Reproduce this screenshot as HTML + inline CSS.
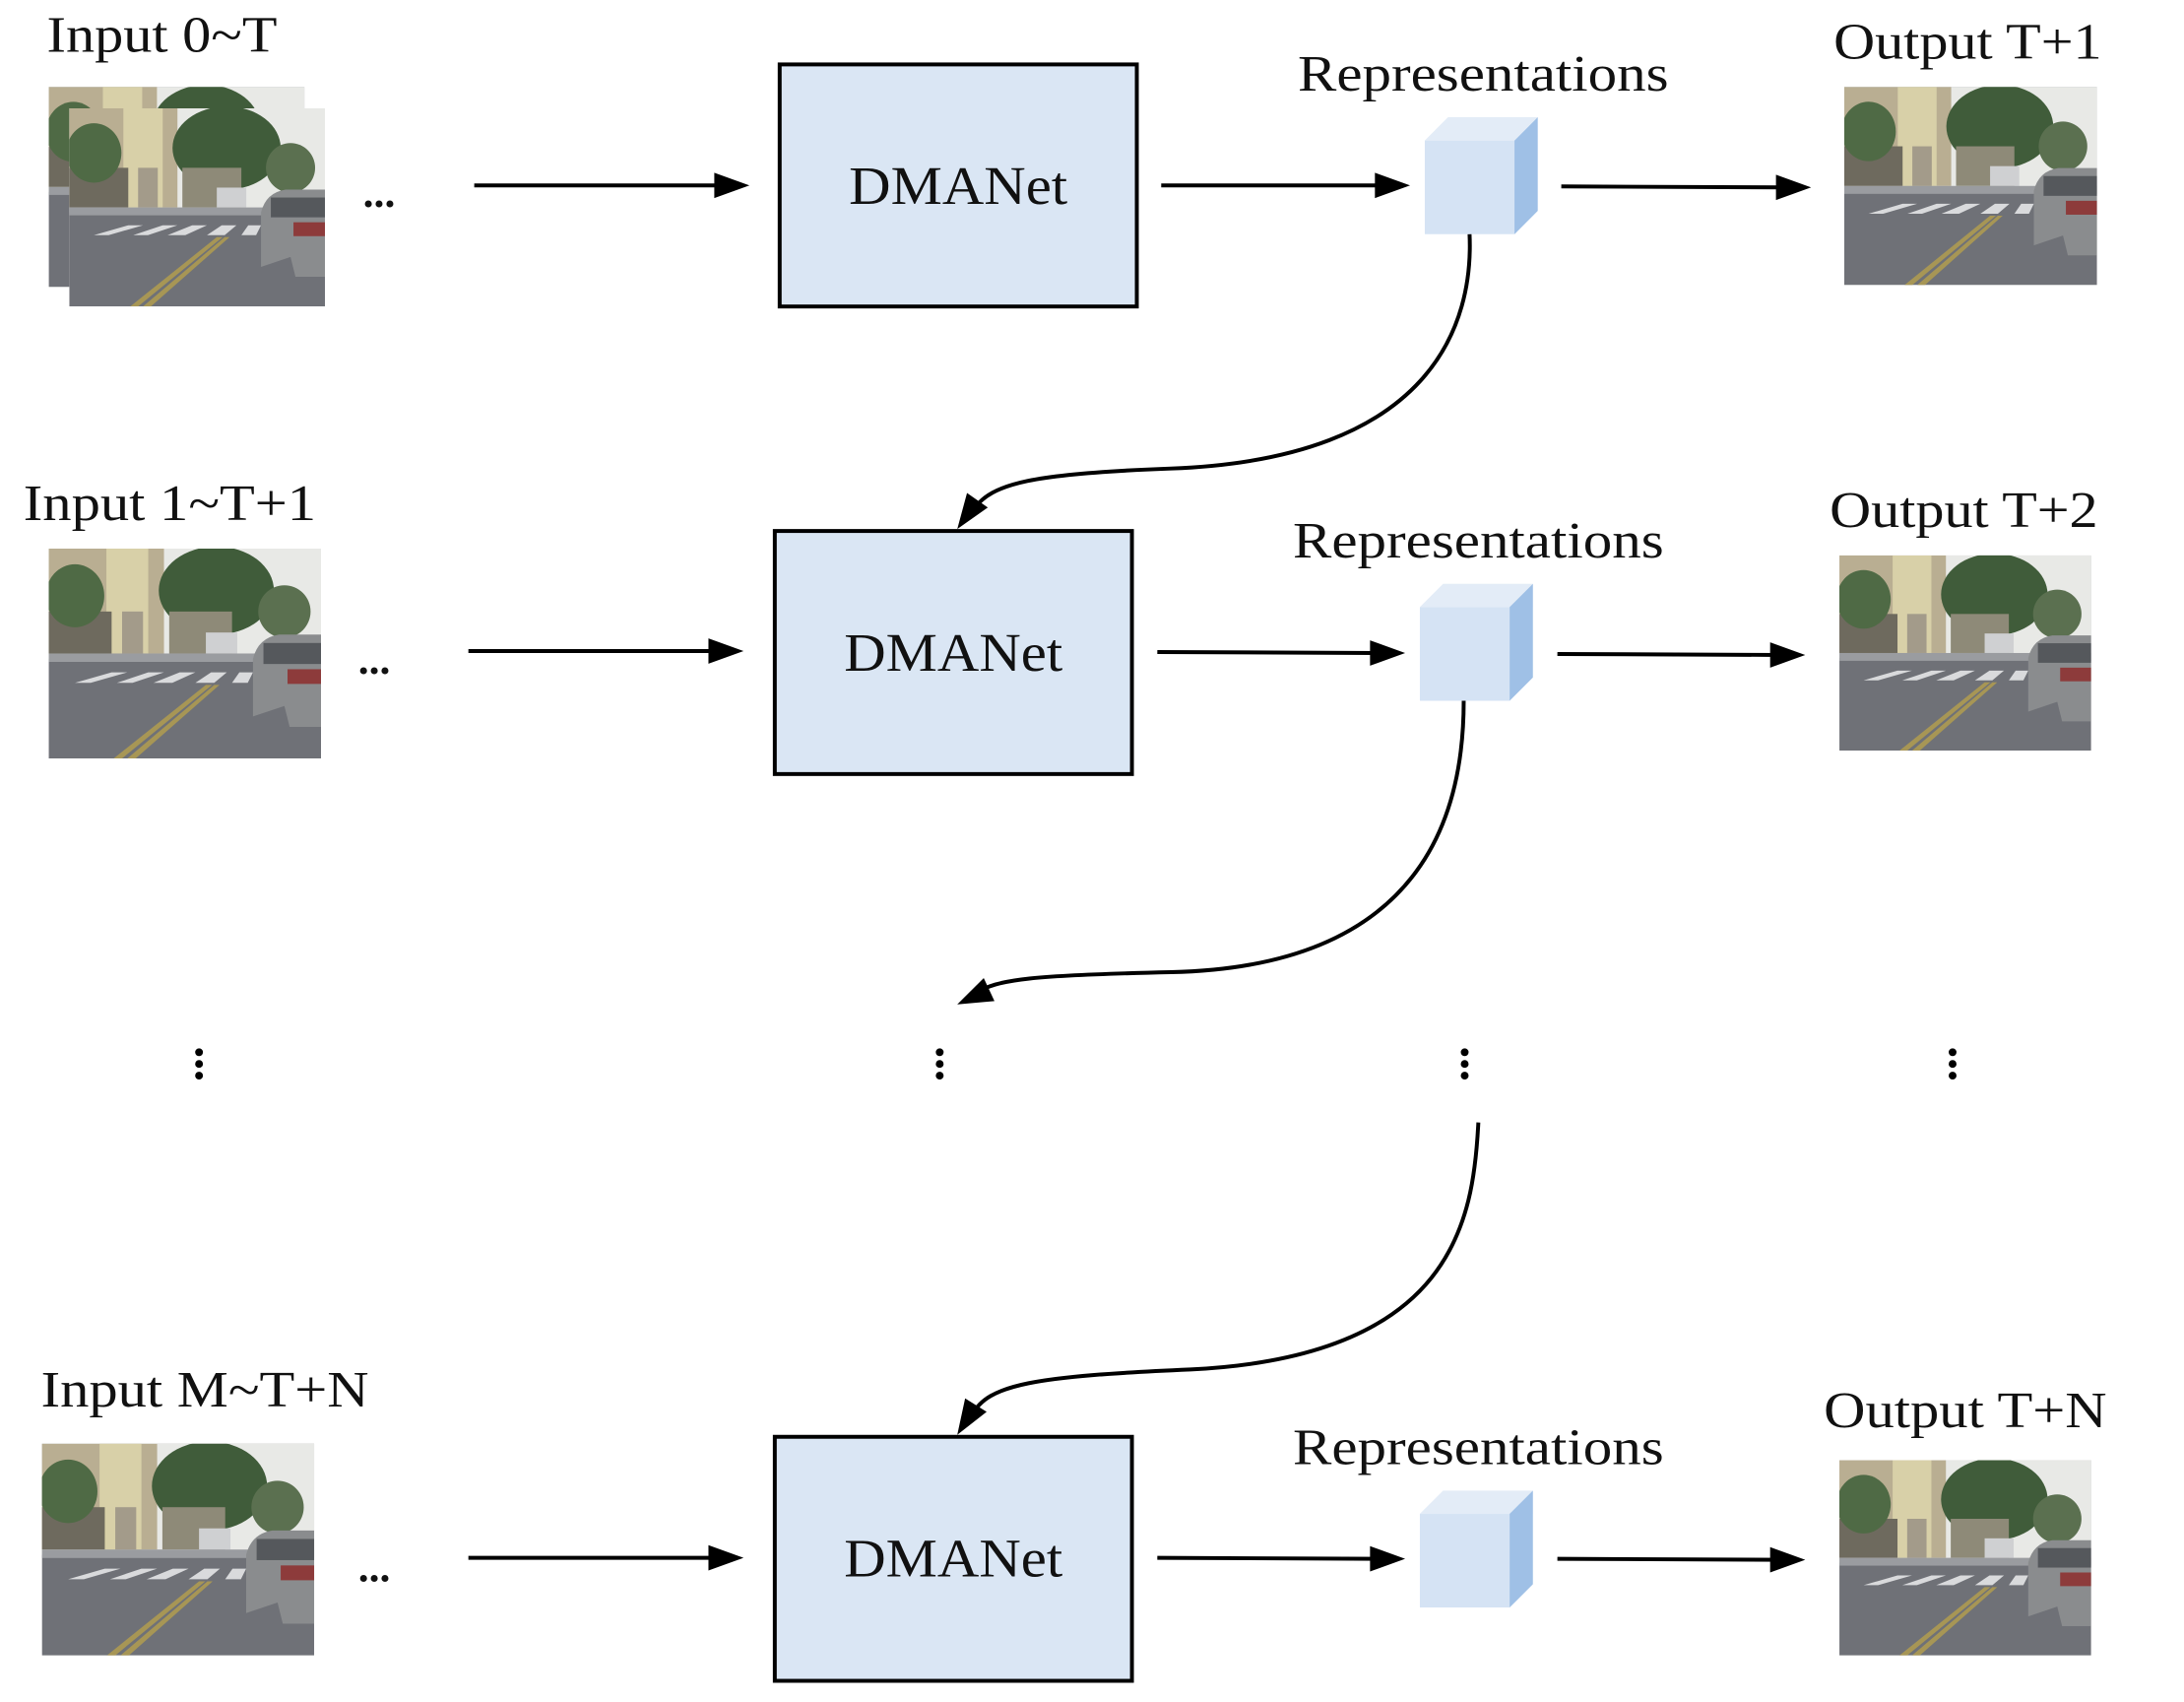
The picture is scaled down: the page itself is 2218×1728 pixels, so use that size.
<!DOCTYPE html>
<html><head><meta charset="utf-8"><style>
html,body{margin:0;padding:0;background:#fff}
svg{display:block}
text{font-family:"Liberation Serif",serif;fill:#111}
</style></head><body>
<svg width="2218" height="1728" viewBox="0 0 2218 1728" xmlns="http://www.w3.org/2000/svg">
<defs>
<symbol id="scene" viewBox="0 0 260 200" preserveAspectRatio="none">
<rect width="260" height="200" fill="#6f7177"/>
<rect width="260" height="105" fill="#e8e9e6"/>
<rect x="0" y="0" width="110" height="100" fill="#b9ae92"/>
<rect x="55" y="0" width="40" height="100" fill="#d8d0a8"/>
<rect x="0" y="60" width="60" height="40" fill="#6e6a5e"/>
<rect x="70" y="60" width="20" height="40" fill="#a39b8a"/>
<ellipse cx="25" cy="45" rx="28" ry="30" fill="#4f6a45"/>
<ellipse cx="160" cy="40" rx="55" ry="42" fill="#405c3a"/>
<ellipse cx="225" cy="60" rx="25" ry="25" fill="#5b7050"/>
<rect x="115" y="60" width="60" height="40" fill="#8e8a78"/>
<rect x="150" y="80" width="30" height="20" fill="#cfd0d2"/>
<rect x="0" y="100" width="260" height="8" fill="#9a9ca0"/>
<g fill="#d9dadc">
<polygon points="25,128 60,118 75,118 40,128"/>
<polygon points="65,128 95,118 110,118 80,128"/>
<polygon points="100,128 125,118 140,118 118,128"/>
<polygon points="140,128 155,118 170,118 158,128"/>
<polygon points="175,128 182,118 195,118 190,128"/>
</g>
<polygon points="62,200 150,130 156,130 70,200" fill="#a79655"/>
<polygon points="75,200 158,130 163,130 83,200" fill="#a79655"/>
<path d="M195,160 L195,105 Q200,85 220,82 L260,82 L260,170 L230,170 L225,150 Z" fill="#8a8c8e"/>
<rect x="228" y="115" width="32" height="14" fill="#8d3b3b"/>
<rect x="205" y="90" width="55" height="20" fill="#55585c"/>
</symbol>
<symbol id="cube" viewBox="0 0 116 120">
<polygon points="0,24 24,0 116,0 92,24" fill="#e3ecf7"/>
<polygon points="92,24 116,0 116,96 92,120" fill="#9fc0e6"/>
<rect x="0" y="24" width="92" height="96" fill="#d5e3f4"/>
</symbol>
<g id="ah"><path d="M-36,-13 L0,0 L-36,13 Z" fill="#000"/></g>
</defs>
<g transform="scale(0.991)">
<!-- Row 1 -->
<text x="48" y="53" font-size="52" textLength="236" lengthAdjust="spacingAndGlyphs">Input 0~T</text>
<use href="#scene" x="50" y="89" width="262" height="205"/>
<rect x="71" y="111" width="262" height="203" fill="#fff"/>
<use href="#scene" x="71" y="111" width="262" height="203"/>
<text x="372" y="212" font-size="44" font-weight="bold">...</text>
<line x1="486" y1="190" x2="740" y2="190" stroke="#000" stroke-width="4"/>
<use href="#ah" transform="translate(768,190)"/>
<rect x="799" y="66" width="366" height="248" fill="#dae6f4" stroke="#000" stroke-width="4"/>
<text x="870" y="209" font-size="56" textLength="224" lengthAdjust="spacingAndGlyphs">DMANet</text>
<line x1="1190" y1="190" x2="1420" y2="190" stroke="#000" stroke-width="4"/>
<use href="#ah" transform="translate(1445,190)"/>
<text x="1330" y="93" font-size="52" textLength="380" lengthAdjust="spacingAndGlyphs">Representations</text>
<use href="#cube" x="1460" y="120" width="116" height="120"/>
<line x1="1600" y1="191" x2="1830" y2="192" stroke="#000" stroke-width="4"/>
<use href="#ah" transform="translate(1856,192)"/>
<text x="1879" y="60" font-size="52" textLength="275" lengthAdjust="spacingAndGlyphs">Output T+1</text>
<use href="#scene" x="1890" y="89" width="259" height="203"/>
<path d="M1506,240 C1510,330 1470,470 1200,480 C1060,485 1015,495 998,522" fill="none" stroke="#000" stroke-width="4"/>
<use href="#ah" transform="translate(981,542) rotate(125)"/>

<!-- Row 2 -->
<text x="24" y="533" font-size="52" textLength="300" lengthAdjust="spacingAndGlyphs">Input 1~T+1</text>
<use href="#scene" x="50" y="562" width="279" height="215"/>
<text x="367" y="690" font-size="44" font-weight="bold">...</text>
<line x1="480" y1="667" x2="735" y2="667" stroke="#000" stroke-width="4"/>
<use href="#ah" transform="translate(762,667)"/>
<rect x="794" y="544" width="366" height="249" fill="#dae6f4" stroke="#000" stroke-width="4"/>
<text x="865" y="687" font-size="56" textLength="224" lengthAdjust="spacingAndGlyphs">DMANet</text>
<line x1="1186" y1="668" x2="1415" y2="669" stroke="#000" stroke-width="4"/>
<use href="#ah" transform="translate(1440,669)"/>
<text x="1325" y="571" font-size="52" textLength="380" lengthAdjust="spacingAndGlyphs">Representations</text>
<use href="#cube" x="1455" y="598" width="116" height="120"/>
<line x1="1596" y1="670" x2="1825" y2="671" stroke="#000" stroke-width="4"/>
<use href="#ah" transform="translate(1850,671)"/>
<text x="1875" y="540" font-size="52" textLength="275" lengthAdjust="spacingAndGlyphs">Output T+2</text>
<use href="#scene" x="1885" y="569" width="258" height="200"/>
<path d="M1500,718 C1500,820 1470,990 1200,996 C1060,999 1020,1003 1000,1018" fill="none" stroke="#000" stroke-width="4"/>
<use href="#ah" transform="translate(981,1029) rotate(155)"/>

<!-- dots -->
<g fill="#000">
<circle cx="204" cy="1078" r="4"/><circle cx="204" cy="1090" r="4"/><circle cx="204" cy="1102" r="4"/>
<circle cx="963" cy="1078" r="4"/><circle cx="963" cy="1090" r="4"/><circle cx="963" cy="1102" r="4"/>
<circle cx="1501" cy="1078" r="4"/><circle cx="1501" cy="1090" r="4"/><circle cx="1501" cy="1102" r="4"/>
<circle cx="2001" cy="1078" r="4"/><circle cx="2001" cy="1090" r="4"/><circle cx="2001" cy="1102" r="4"/>
</g>
<path d="M1515,1150 C1510,1250 1490,1390 1220,1403 C1060,1410 1012,1418 996,1450" fill="none" stroke="#000" stroke-width="4"/>
<use href="#ah" transform="translate(981,1470) rotate(122)"/>

<!-- Row 3 -->
<text x="42" y="1441" font-size="52" textLength="336" lengthAdjust="spacingAndGlyphs">Input M~T+N</text>
<use href="#scene" x="43" y="1479" width="279" height="217"/>
<text x="367" y="1620" font-size="44" font-weight="bold">...</text>
<line x1="480" y1="1596" x2="735" y2="1596" stroke="#000" stroke-width="4"/>
<use href="#ah" transform="translate(762,1596)"/>
<rect x="794" y="1472" width="366" height="250" fill="#dae6f4" stroke="#000" stroke-width="4"/>
<text x="865" y="1615" font-size="56" textLength="224" lengthAdjust="spacingAndGlyphs">DMANet</text>
<line x1="1186" y1="1596" x2="1415" y2="1597" stroke="#000" stroke-width="4"/>
<use href="#ah" transform="translate(1440,1597)"/>
<text x="1325" y="1500" font-size="52" textLength="380" lengthAdjust="spacingAndGlyphs">Representations</text>
<use href="#cube" x="1455" y="1527" width="116" height="120"/>
<line x1="1596" y1="1597" x2="1825" y2="1598" stroke="#000" stroke-width="4"/>
<use href="#ah" transform="translate(1850,1598)"/>
<text x="1869" y="1462" font-size="52" textLength="290" lengthAdjust="spacingAndGlyphs">Output T+N</text>
<use href="#scene" x="1885" y="1496" width="258" height="200"/>
</g>
</svg>
</body></html>
